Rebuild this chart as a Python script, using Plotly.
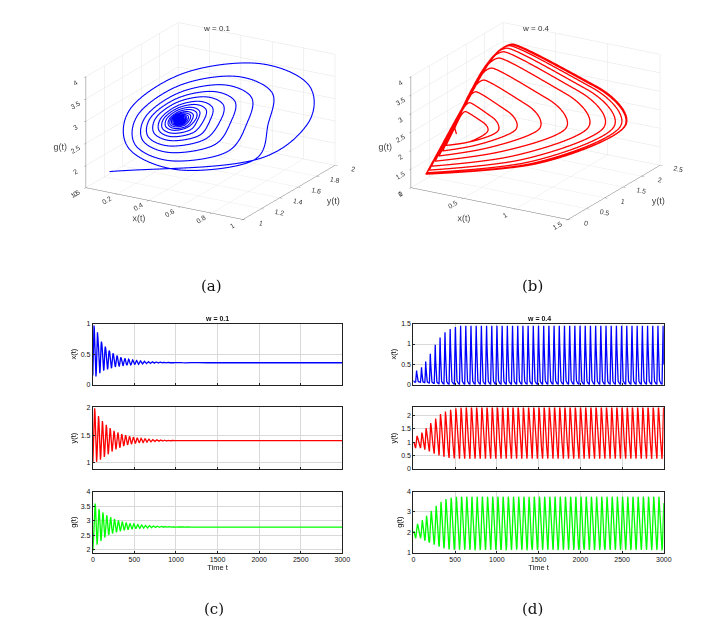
import numpy as np
import plotly.graph_objects as go

T_END = 3000.0

# ---------------- w = 0.1 (damped oscillation) ----------------
A_first_peak = 14.0
A_period = 46.5
A_start = [0.15, 1.00, 1.97]
A_eq = [0.36, 1.40, 2.78]
A_x_peaks = [0.97, 0.78, 0.68, 0.60, 0.55, 0.50, 0.47, 0.44, 0.43, 0.415, 0.405, 0.397, 0.39, 0.385, 0.38,
             0.377, 0.374, 0.371, 0.369, 0.367, 0.366, 0.365, 0.364, 0.363, 0.3625, 0.362, 0.3615, 0.361, 0.3607, 0.3605]
A_x_troughs = [0.135, 0.19, 0.23, 0.25, 0.27, 0.29, 0.30, 0.31, 0.32, 0.325, 0.33, 0.335, 0.34, 0.343, 0.346,
               0.349, 0.351, 0.353, 0.354, 0.355, 0.356, 0.357, 0.3575, 0.358, 0.3585, 0.359, 0.3593, 0.3595, 0.3597, 0.3598]
A_y_peaks = [1.99, 1.85, 1.76, 1.69, 1.63, 1.58, 1.55, 1.52, 1.50, 1.48, 1.465, 1.452, 1.442, 1.434, 1.427,
             1.421, 1.417, 1.413, 1.41, 1.408, 1.406, 1.405, 1.404, 1.403, 1.402, 1.4015, 1.401, 1.4007, 1.4005, 1.4003]
A_y_troughs = [1.01, 1.05, 1.10, 1.15, 1.20, 1.24, 1.27, 1.30, 1.32, 1.335, 1.348, 1.358, 1.366, 1.372, 1.377,
               1.382, 1.386, 1.389, 1.391, 1.393, 1.395, 1.396, 1.397, 1.398, 1.3985, 1.399, 1.3993, 1.3995, 1.3997, 1.3998]
A_g_peaks = [3.60, 3.41, 3.29, 3.19, 3.12, 3.06, 3.01, 2.97, 2.94, 2.91, 2.89, 2.87, 2.855, 2.843, 2.833,
             2.824, 2.817, 2.811, 2.806, 2.802, 2.799, 2.796, 2.794, 2.792, 2.79, 2.788, 2.787, 2.786, 2.785, 2.784]
A_g_troughs = [2.17, 2.30, 2.42, 2.50, 2.56, 2.60, 2.64, 2.67, 2.69, 2.71, 2.725, 2.737, 2.746, 2.753, 2.758,
               2.762, 2.766, 2.769, 2.771, 2.773, 2.775, 2.776, 2.777, 2.778, 2.7785, 2.779, 2.7793, 2.7795, 2.7797, 2.7798]
# shape of one loop (phase after the x peak, position between trough and peak)
A_phase = [0.0, 0.125, 0.25, 0.375, 0.5, 0.625, 0.75, 0.875]
A_xf = [1.00, 0.854, 0.50, 0.146, 0.00, 0.146, 0.50, 0.854]
A_yf = [0.75, 0.98, 0.93, 0.63, 0.25, 0.02, 0.07, 0.37]
A_gf = [0.37, 0.75, 0.98, 0.93, 0.63, 0.25, 0.02, 0.07]

# ---------------- w = 0.4 (growing to a limit cycle) ----------------
B_peak_times_early = [39, 98, 148, 203, 262, 320, 379, 441, 504, 566]
B_period_late = 62.2
B_start = [0.10, 0.95, 1.95]
B_x_peaks = [0.35, 0.43, 0.57, 0.76, 0.98, 1.16, 1.29, 1.37, 1.42, 1.45]
B_x_troughs = [0.06, 0.05, 0.04, 0.03, 0.02, 0.015, 0.01, 0.01, 0.01, 0.01]
B_y_peaks = [1.25, 1.38, 1.55, 1.75, 1.93, 2.10, 2.20, 2.27, 2.33, 2.37]
B_y_troughs = [0.78, 0.72, 0.65, 0.57, 0.50, 0.45, 0.41, 0.39, 0.38, 0.38]
B_g_peaks = [2.42, 2.60, 2.82, 3.05, 3.30, 3.50, 3.63, 3.70, 3.74, 3.75]
B_g_troughs = [1.72, 1.60, 1.50, 1.40, 1.30, 1.22, 1.17, 1.15, 1.15, 1.15]
B_limit = dict(x=(0.01, 1.45), y=(0.38, 2.40), g=(1.15, 3.75))
B_phase = [0.0, 0.08, 0.18, 0.43, 0.78, 0.90]
B_xf = [1.00, 0.65, 0.14, 0.03, 0.00, 0.54]
B_yf = [0.65, 0.97, 0.87, 0.45, 0.00, 0.30]
B_gf = [0.52, 0.68, 1.00, 0.50, 0.00, 0.13]

TIME_TICKS = [0, 500, 1000, 1500, 2000, 2500, 3000]


def hermite(tk, vk, tt, monotone):
    tk = np.asarray(tk, float); vk = np.asarray(vk, float)
    n = len(tk)
    h = np.diff(tk)
    dlt = np.diff(vk) / h
    m = np.zeros(n)
    if monotone:
        for i in range(1, n - 1):
            if dlt[i - 1] * dlt[i] > 0:
                w1 = 2 * h[i] + h[i - 1]
                w2 = h[i] + 2 * h[i - 1]
                m[i] = (w1 + w2) / (w1 / dlt[i - 1] + w2 / dlt[i])
    else:
        m[1:-1] = (vk[2:] - vk[:-2]) / (tk[2:] - tk[:-2])
    m[0] = dlt[0]; m[-1] = dlt[-1]
    idx = np.clip(np.searchsorted(tk, tt, side='right') - 1, 0, n - 2)
    hh = tk[idx + 1] - tk[idx]
    s = (tt - tk[idx]) / hh
    h00 = 2 * s**3 - 3 * s**2 + 1
    h10 = s**3 - 2 * s**2 + s
    h01 = -2 * s**3 + 3 * s**2
    h11 = s**3 - s**2
    return h00 * vk[idx] + h10 * hh * m[idx] + h01 * vk[idx + 1] + h11 * hh * m[idx + 1]


def build(peak_times, lohi, phases, fr, start, monotone):
    T = [0.0]; V = [list(start)]
    for k, tk in enumerate(peak_times):
        P = (peak_times[k + 1] - tk) if k + 1 < len(peak_times) else (tk - peak_times[k - 1])
        for j, ph in enumerate(phases):
            t = tk + ph * P
            if k == 0 and ph > 0.4 and t - P > 5.0:
                tp = t - P
                vals = []
                for c in range(3):
                    lo, hi = lohi[c](0)
                    vals.append(lo + fr[c][j] * (hi - lo))
                T.append(tp); V.append(vals)
            if t <= 0.5:
                continue
            vals = []
            for c in range(3):
                lo, hi = lohi[c](k)
                vals.append(lo + fr[c][j] * (hi - lo))
            T.append(t); V.append(vals)
    T = np.array(T); V = np.array(V)
    o = np.argsort(T)
    T, V = T[o], V[o]
    tt = np.linspace(0, T_END, 9001)
    return tt, [hermite(T, V[:, c], tt, monotone) for c in range(3)]


def mk_A(peaks, troughs, eq):
    def f(k):
        if k < len(peaks):
            return troughs[k], peaks[k]
        return eq, eq
    return f


A_times = []
t = A_first_peak
while t < T_END + 2 * A_period:
    A_times.append(t); t += A_period
A_lohi = [mk_A(A_x_peaks, A_x_troughs, A_eq[0]), mk_A(A_y_peaks, A_y_troughs, A_eq[1]),
          mk_A(A_g_peaks, A_g_troughs, A_eq[2])]
tA, (xA, yA, gA) = build(A_times, A_lohi, A_phase, [A_xf, A_yf, A_gf], A_start, False)
yA = np.clip(yA, 1.0, 2.0)

B_times = list(B_peak_times_early)
t = B_times[-1] + B_period_late
while t < T_END + 2 * B_period_late:
    B_times.append(t); t += B_period_late


def mk_B(peaks, troughs, lim):
    def f(k):
        if k < len(peaks):
            return troughs[k], peaks[k]
        return lim
    return f


B_lohi = [mk_B(B_x_peaks, B_x_troughs, B_limit['x']), mk_B(B_y_peaks, B_y_troughs, B_limit['y']),
          mk_B(B_g_peaks, B_g_troughs, B_limit['g'])]
tB, (xB, yB, gB) = build(B_times, B_lohi, B_phase, [B_xf, B_yf, B_gf], B_start, True)

BLUE, RED, GREEN = '#0000ff', '#ff0000', '#00ff00'
fig = go.Figure()

# 3D trajectories
fig.add_trace(go.Scatter3d(x=xA, y=yA, z=gA, mode='lines', line=dict(color=BLUE, width=2.2),
                           scene='scene', showlegend=False))
fig.add_trace(go.Scatter3d(x=xB, y=yB, z=gB, mode='lines', line=dict(color=RED, width=2.6),
                           scene='scene2', showlegend=False))

# 2D time series
Lx = [0.1165, 0.4674]
Rx = [0.5673, 0.9196]
rows = [[0.395, 0.494], [0.2584, 0.358], [0.122, 0.2215]]
series = [
    (tA, xA, BLUE, Lx, rows[0], [0, 1], [0, 0.5, 1], 'x(t)'),
    (tA, yA, RED, Lx, rows[1], [0.89, 2.0], [1, 1.5, 2], 'y(t)'),
    (tA, gA, GREEN, Lx, rows[2], [1.9, 4.0], [2, 2.5, 3, 3.5, 4], 'g(t)'),
    (tB, xB, BLUE, Rx, rows[0], [0, 1.5], [0, 0.5, 1, 1.5], 'x(t)'),
    (tB, yB, RED, Rx, rows[1], [0, 2.3], [0, 0.5, 1, 1.5, 2], 'y(t)'),
    (tB, gB, GREEN, Rx, rows[2], [1, 4], [1, 2, 3, 4], 'g(t)'),
]
lay = {}
for i, (tt, vv, col, dx, dy, yr, yt, ttl) in enumerate(series):
    n = i + 1
    xa = 'x' if n == 1 else f'x{n}'
    ya = 'y' if n == 1 else f'y{n}'
    fig.add_trace(go.Scatter(x=tt, y=vv, mode='lines', line=dict(color=col, width=1.3),
                             xaxis=xa, yaxis=ya, showlegend=False, hoverinfo='skip'))
    bottom = (i % 3 == 2)
    lay['xaxis' if n == 1 else f'xaxis{n}'] = dict(
        domain=dx, anchor=ya, range=[0, 3000], tickvals=TIME_TICKS, showticklabels=bottom,
        showgrid=True, gridcolor='#d9d9d9', gridwidth=1, zeroline=False, showline=True, mirror=True,
        linecolor='#222', linewidth=1, ticks='inside', ticklen=2, tickcolor='#222',
        tickfont=dict(size=7, color='#111', family='Arial'),
        title=dict(text='Time t' if bottom else '', font=dict(size=7.5, color='#111', family='Arial'), standoff=1))
    lay['yaxis' if n == 1 else f'yaxis{n}'] = dict(
        domain=dy, anchor=xa, range=yr, tickvals=yt, showgrid=True, gridcolor='#d9d9d9', zeroline=False,
        showline=True, mirror=True, linecolor='#222', linewidth=1, ticks='inside', ticklen=2, tickcolor='#222',
        tickfont=dict(size=7, color='#111', family='Arial'),
        title=dict(text=ttl, font=dict(size=7.5, color='#111', family='Arial'), standoff=3))


def axis3d(rng, ticks, title):
    return dict(range=rng, tickvals=ticks, title=dict(text=title, font=dict(size=9, color='#444', family='Arial')),
                tickfont=dict(size=9, color='#333', family='Arial'), showbackground=False,
                gridcolor='#e4e4e4', gridwidth=1, showline=True, linecolor='#777', linewidth=1,
                zeroline=False, showspikes=False, ticks='outside', ticklen=3, tickcolor='#777')


d = np.array([0.475, -0.809, 0.345])
eye = (d * 3.0).tolist()
cam = dict(eye=dict(x=eye[0], y=eye[1], z=eye[2]), up=dict(x=0, y=0, z=1), center=dict(x=0, y=0, z=0),
           projection=dict(type='orthographic'))
ASP = dict(x=1.67, y=1.67, z=1.085)

lay['scene'] = dict(domain=dict(x=[0.042, 0.522], y=[0.646, 1.0]),
                    xaxis=axis3d([0, 1], [0, 0.2, 0.4, 0.6, 0.8, 1], 'x(t)'),
                    yaxis=axis3d([1, 2], [1, 1.2, 1.4, 1.6, 1.8, 2], 'y(t)'),
                    zaxis=axis3d([1.5, 4], [1.5, 2, 2.5, 3, 3.5, 4], 'g(t)'),
                    aspectmode='manual', aspectratio=ASP, camera=cam)
lay['scene2'] = dict(domain=dict(x=[0.499, 0.979], y=[0.646, 1.0]),
                     xaxis=axis3d([0, 1.5], [0, 0.5, 1, 1.5], 'x(t)'),
                     yaxis=axis3d([0, 2.5], [0, 0.5, 1, 1.5, 2, 2.5], 'y(t)'),
                     zaxis=axis3d([1, 4], [1, 1.5, 2, 2.5, 3, 3.5, 4], 'g(t)'),
                     aspectmode='manual', aspectratio=ASP, camera=cam)

ann = []
for txt, x, y in [('(a)', 204, 277), ('(b)', 530, 277), ('(c)', 207, 604), ('(d)', 530, 604)]:
    ann.append(dict(text=txt, x=x / 721, y=1 - y / 623, xref='paper', yref='paper', showarrow=False,
                    font=dict(size=15, family='DejaVu Serif', color='#111'), xanchor='center', yanchor='middle'))
for txt, x, y in [('w = 0.1', 210, 17), ('w = 0.4', 533, 17)]:
    ann.append(dict(text=txt, x=x / 721, y=1 - y / 623, xref='paper', yref='paper', showarrow=False,
                    font=dict(size=8, family='Arial', color='#333'), xanchor='center', yanchor='middle'))
for txt, x in [('<b>w = 0.1</b>', 210), ('<b>w = 0.4</b>', 536)]:
    ann.append(dict(text=txt, x=x / 721, y=1 - 310 / 623, xref='paper', yref='paper', showarrow=False,
                    font=dict(size=7, family='Arial', color='#111'), xanchor='center', yanchor='middle'))

fig.update_layout(width=721, height=623, margin=dict(l=0, r=0, t=0, b=0), paper_bgcolor='white',
                  plot_bgcolor='white', annotations=ann, **lay)
fig.write_html('out.html')
